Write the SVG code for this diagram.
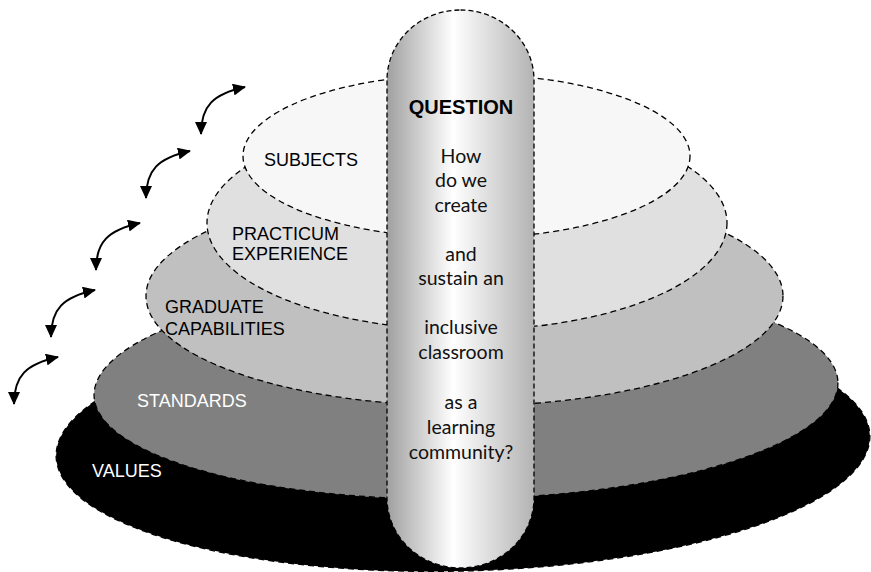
<svg xmlns="http://www.w3.org/2000/svg" width="871" height="572" viewBox="0 0 871 572">
  <style>
    .layer { stroke: #000; stroke-width: 1.3; stroke-dasharray: 6 4; }
    .label { font-family: "Liberation Sans", Arial, sans-serif; font-size: 18px; fill: #000; }
    .label.light { fill: #fff; }
    .q { font-family: Lato, "Open Sans", sans-serif; font-size: 19.5px; fill: #111; text-anchor: middle; }
    .qhead { font-family: "Liberation Sans", Arial, sans-serif; font-size: 20px; font-weight: bold; fill: #000; text-anchor: middle; }
    .link { fill: none; stroke: #000; stroke-width: 2; marker-start: url(#head); marker-end: url(#head); }
  </style>
  <defs>
    <marker id="head" viewBox="0 0 13 12" refX="12" refY="6" markerWidth="13" markerHeight="12" markerUnits="userSpaceOnUse" orient="auto-start-reverse">
      <path d="M0,0 L13,6 L0,12 z" fill="#000"/>
    </marker>
    <linearGradient id="pillar" x1="0" y1="0" x2="1" y2="0">
      <stop offset="0" stop-color="#a0a0a0"/>
      <stop offset="0.45" stop-color="#ffffff"/>
      <stop offset="1" stop-color="#b3b3b3"/>
    </linearGradient>
  </defs>

  <!-- stacked layers, widest at the bottom -->
  <g id="values">
    <ellipse class="layer" cx="463" cy="446" rx="407" ry="125" fill="#000" transform="rotate(-1.5 463 446)"/>
    <text class="label light" x="92" y="477">VALUES</text>
  </g>
  <g id="standards">
    <ellipse class="layer" cx="466" cy="389" rx="372" ry="110" fill="#808080" transform="rotate(-1 466 389)"/>
    <text class="label light" x="137" y="407">STANDARDS</text>
  </g>
  <g id="graduate-capabilities">
    <ellipse class="layer" cx="464.5" cy="296" rx="318.5" ry="110" fill="#c0c0c0"/>
    <text class="label" x="165" y="313">GRADUATE</text>
    <text class="label" x="165" y="335">CAPABILITIES</text>
  </g>
  <g id="practicum-experience">
    <ellipse class="layer" cx="467" cy="223" rx="260" ry="107" fill="#e0e0e0"/>
    <text class="label" x="232" y="240">PRACTICUM</text>
    <text class="label" x="232" y="260">EXPERIENCE</text>
  </g>
  <g id="subjects">
    <ellipse class="layer" cx="466.5" cy="156" rx="223.5" ry="82" fill="#f7f7f7"/>
    <text class="label" x="264" y="166">SUBJECTS</text>
  </g>

  <!-- central question pillar -->
  <g id="question">
    <rect x="387" y="10" width="147" height="558" rx="73.5" ry="70" fill="url(#pillar)" stroke="#000" stroke-width="1.3" stroke-dasharray="5 3"/>
    <text class="qhead" x="461" y="114">QUESTION</text>
    <text class="q" x="461" y="163">How</text>
    <text class="q" x="461" y="187">do we</text>
    <text class="q" x="461" y="212">create</text>
    <text class="q" x="461" y="261">and</text>
    <text class="q" x="461" y="285">sustain an</text>
    <text class="q" x="461" y="334">inclusive</text>
    <text class="q" x="461" y="359">classroom</text>
    <text class="q" x="461" y="409">as a</text>
    <text class="q" x="461" y="434">learning</text>
    <text class="q" x="461" y="459">community?</text>
  </g>

  <!-- two-way links between neighbouring layers -->
  <g id="connectors">
    <path class="link" d="M201,134 C201,106 213,94 245,87"/>
    <path class="link" d="M146,198 C146,170 158,158 190,151"/>
    <path class="link" d="M96,270 C96,242 108,230 140,223"/>
    <path class="link" d="M51,337 C51,309 63,297 95,290"/>
    <path class="link" d="M14,404 C14,376 26,364 58,357"/>
  </g>
</svg>
